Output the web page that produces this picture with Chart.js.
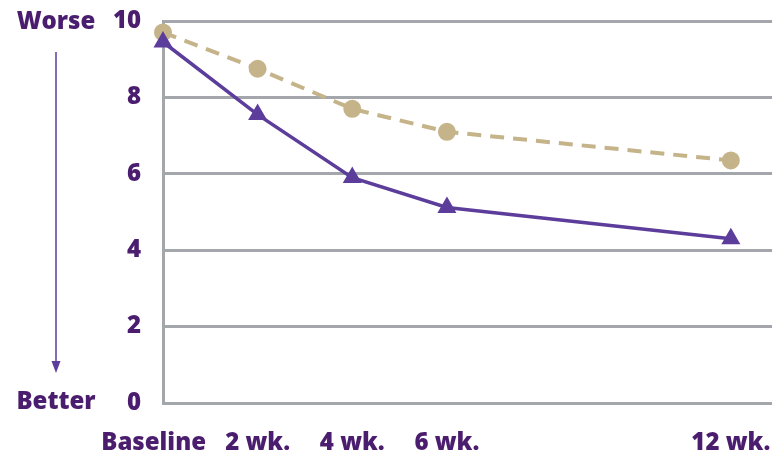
<!DOCTYPE html>
<html>
<head>
<meta charset="utf-8">
<script src="https://cdn.jsdelivr.net/npm/chart.js@4"></script>
<style>
  html, body { margin: 0; padding: 0; background: #ffffff; }
  #wrap { width: 772px; height: 457px; position: relative; }
</style>
</head>
<body>
<div id="wrap"><canvas id="chart" width="772" height="457"></canvas></div>
<script>
// Time points in weeks and their axis labels
const weeks = [0, 2, 4, 6, 12];
const weekLabels = ['Baseline\u00a0\u00a0\u00a0', '2 wk.', '4 wk.', '6 wk.', '12 wk.'];

// Symptom scores (0 = better, 10 = worse)
const treatedScores = [9.45, 7.55, 5.9, 5.12, 4.3];
const comparisonScores = [9.7, 8.75, 7.7, 7.1, 6.35];

const yTicks = [0, 2, 4, 6, 8, 10];
const scaleTop = 'Worse';
const scaleBottom = 'Better';

const textColor = '#4a1d6e';
const gridColor = '#a3a6ab';
const purple = '#5c3d9b';
const tan = '#c5b389';
const fontFamily = '"Open Sans", "Liberation Sans", sans-serif';
const labelFont = { family: fontFamily, size: 24, weight: 800 };

const sideLabels = {
  id: 'sideLabels',
  afterDraw(chart) {
    const ctx = chart.ctx;
    const y = chart.scales.y;
    const cx = 56;
    ctx.save();
    ctx.fillStyle = textColor;
    ctx.font = '800 24px ' + fontFamily;
    ctx.textAlign = 'center';
    ctx.textBaseline = 'middle';
    ctx.fillText(scaleTop, cx, y.getPixelForValue(10) + 1);
    ctx.fillText(scaleBottom, cx, y.getPixelForValue(0) - 1);
    // direction arrow
    const yStart = y.getPixelForValue(10) + 31;
    const yEnd = y.getPixelForValue(0) - 30;
    ctx.strokeStyle = purple;
    ctx.lineWidth = 1.5;
    ctx.beginPath();
    ctx.moveTo(cx, yStart);
    ctx.lineTo(cx, yEnd - 10);
    ctx.stroke();
    ctx.fillStyle = purple;
    ctx.beginPath();
    ctx.moveTo(cx - 4.5, yEnd - 12);
    ctx.lineTo(cx + 4.5, yEnd - 12);
    ctx.lineTo(cx, yEnd);
    ctx.closePath();
    ctx.fill();
    ctx.restore();
  }
};

new Chart(document.getElementById('chart'), {
  type: 'line',
  data: {
    datasets: [
      {
        label: 'Treated',
        data: weeks.map((w, i) => ({ x: w, y: treatedScores[i] })),
        borderColor: purple,
        backgroundColor: purple,
        borderWidth: 3.5,
        pointStyle: 'triangle',
        pointRadius: 7.5,
        pointHoverRadius: 7.5,
        tension: 0,
        clip: false,
        order: 0
      },
      {
        label: 'Comparison',
        data: weeks.map((w, i) => ({ x: w, y: comparisonScores[i] })),
        borderColor: tan,
        backgroundColor: tan,
        borderWidth: 4,
        borderDash: [14, 9],
        pointStyle: 'circle',
        pointRadius: 7,
        pointHoverRadius: 7,
        tension: 0,
        clip: false,
        order: 1
      }
    ]
  },
  options: {
    responsive: false,
    animation: false,
    layout: { autoPadding: false, padding: { top: 21, right: 0, left: 0, bottom: 0 } },
    plugins: {
      legend: { display: false },
      tooltip: { enabled: false }
    },
    scales: {
      x: {
        type: 'linear',
        min: 0,
        max: 12.87,
        afterBuildTicks(scale) {
          scale.ticks = weeks.map(v => ({ value: v }));
        },
        afterFit(scale) {
          scale.height = 54;
          scale.paddingLeft = 0;
          scale.paddingRight = 0;
        },
        grid: { display: false, drawTicks: false },
        border: { display: true, color: gridColor, width: 3 },
        ticks: {
          autoSkip: false,
          maxRotation: 0,
          padding: 26,
          color: textColor,
          font: labelFont,
          callback(value) {
            const i = weeks.indexOf(value);
            return i >= 0 ? weekLabels[i] : '';
          }
        }
      },
      y: {
        min: 0,
        max: 10,
        afterBuildTicks(scale) {
          scale.ticks = yTicks.map(v => ({ value: v }));
        },
        afterFit(scale) {
          scale.width = 163;
          scale.paddingTop = 0;
          scale.paddingBottom = 0;
        },
        grid: { color: gridColor, lineWidth: 3, drawTicks: false },
        border: { display: true, color: gridColor, width: 3 },
        ticks: {
          padding: 22,
          color: textColor,
          font: labelFont
        }
      }
    }
  },
  plugins: [sideLabels]
});
</script>
</body>
</html>
